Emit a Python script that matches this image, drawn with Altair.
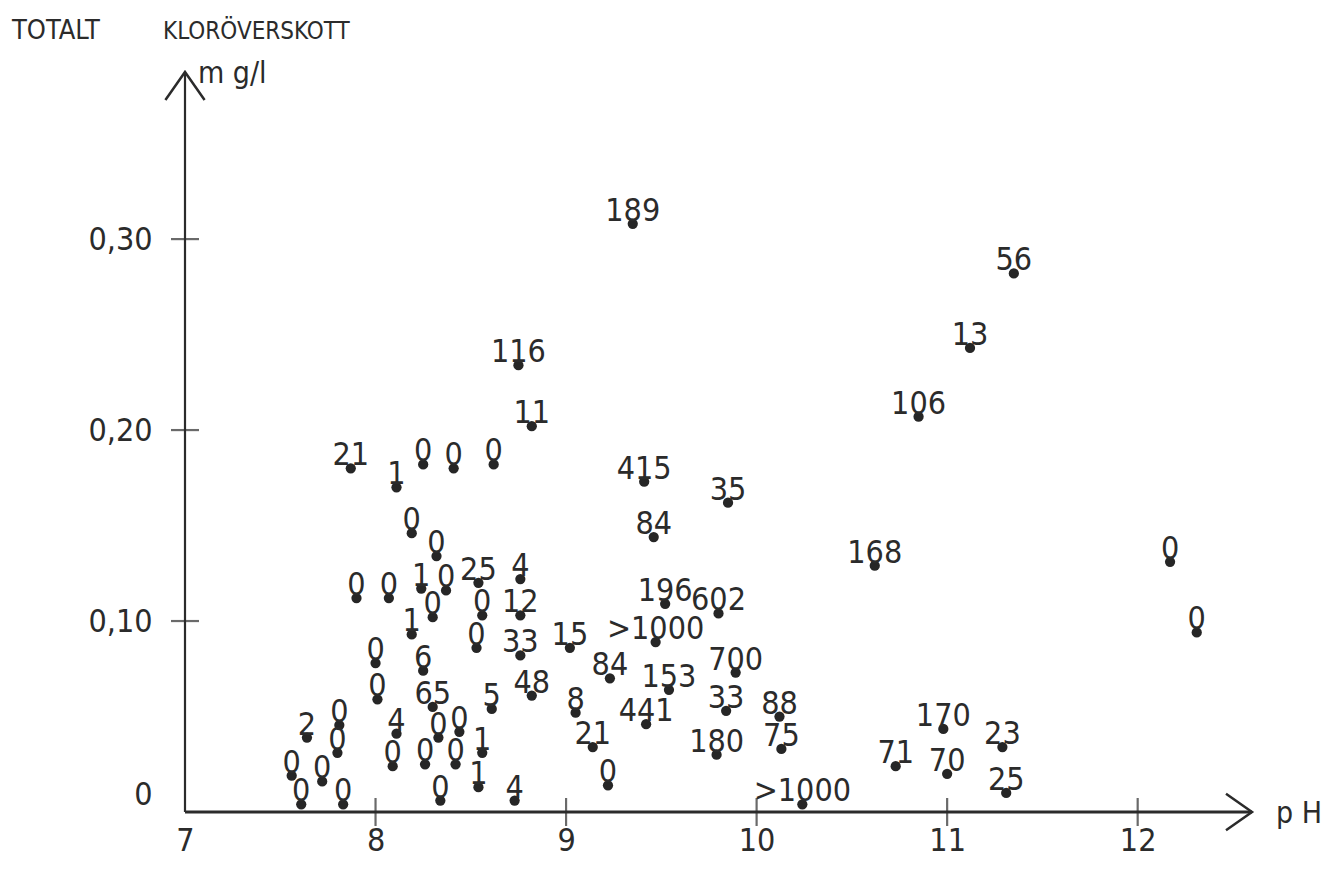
import altair as alt
import pandas as pd

# ---- data ----------------------------------------------------------------
labels = ["189", "56", "13", "116", "106", "11", "21", "1", "0", "0",
          "0", "415", "35", "0", "84", "0", "168", "0", "25", "4",
          "0", "0", "1", "0", "196", "602", "0", "0", "12", "0",
          "1", ">1000", "0", "15", "33", "0", "6", "700", "84", "153",
          "48", "0", "65", "5", "33", "8", "88", "441", "170", "2",
          "0", "4", "0", "0", "1", "0", "21", "180", "75", "23",
          "0", "0", "0", "0", "0", "71", "70", "1", "0", "25",
          "4", "0", "0", "0", ">1000"]
ph = [9.35, 11.35, 11.12, 8.75, 10.85, 8.82, 7.87, 8.11, 8.25, 8.41,
      8.62, 9.41, 9.85, 8.19, 9.46, 8.32, 10.62, 12.17, 8.54, 8.76,
      7.90, 8.07, 8.24, 8.37, 9.52, 9.80, 8.30, 8.56, 8.76, 12.31,
      8.19, 9.47, 8.53, 9.02, 8.76, 8.00, 8.25, 9.89, 9.23, 9.54,
      8.82, 8.01, 8.30, 8.61, 9.84, 9.05, 10.12, 9.42, 10.98, 7.64,
      7.81, 8.11, 8.33, 8.44, 8.56, 7.80, 9.14, 9.79, 10.13, 11.29,
      7.56, 7.72, 8.09, 8.26, 8.42, 10.73, 11.00, 8.54, 9.22, 11.31,
      8.73, 7.61, 7.83, 8.34, 10.24]
chlorine = [0.308, 0.282, 0.243, 0.234, 0.207, 0.202, 0.180, 0.170, 0.182, 0.180,
            0.182, 0.173, 0.162, 0.146, 0.144, 0.134, 0.129, 0.131, 0.120, 0.122,
            0.112, 0.112, 0.117, 0.116, 0.109, 0.104, 0.102, 0.103, 0.103, 0.094,
            0.093, 0.089, 0.086, 0.086, 0.082, 0.078, 0.074, 0.073, 0.070, 0.064,
            0.061, 0.059, 0.055, 0.054, 0.053, 0.052, 0.050, 0.046, 0.0435, 0.039,
            0.0455, 0.041, 0.039, 0.042, 0.031, 0.031, 0.034, 0.030, 0.033, 0.034,
            0.019, 0.016, 0.024, 0.025, 0.025, 0.024, 0.020, 0.013, 0.014, 0.010,
            0.006, 0.004, 0.004, 0.006, 0.004]

x_label_values = [7, 8, 9, 10, 11, 12]
x_tick_values = [8, 9, 10, 11, 12]
y_label_values = [0, 0.10, 0.20, 0.30]
y_tick_values = [0.10, 0.20, 0.30]

X_MIN, X_MAX = 7.0, 12.6
Y_MIN, Y_MAX = 0.0, 0.3875

title_word_1 = "TOTALT"
title_word_2 = "KLORÖVERSKOTT"
y_unit_text = "m\u00a0g/l"
x_unit_text = "p\u00a0H"

# ---- styling --------------------------------------------------------------
FONT = "Liberation Sans Narrow, DejaVu Sans Condensed, Liberation Sans, sans-serif"
INK = "#2b2b2b"

df = pd.DataFrame({"label": labels, "ph": ph, "cl": chlorine})

xs = alt.Scale(domain=[X_MIN, X_MAX], nice=False, zero=False)
ys = alt.Scale(domain=[Y_MIN, Y_MAX], nice=False, zero=False)

x_axis = alt.Axis(values=x_label_values, domain=False, ticks=False, grid=False,
                  labelFont=FONT, labelFontSize=32, labelColor=INK, labelFlush=False,
                  labelPadding=13, format="d", title=None)
y_axis = alt.Axis(values=y_label_values, domain=False, ticks=False, grid=False,
                  labelFont=FONT, labelFontSize=32, labelColor=INK, labelFlush=False,
                  labelPadding=33, title=None,
                  labelExpr="datum.value == 0 ? '0' : replace(format(datum.value, '.2f'), '.', ',')",
                  labelOffset={"condition": {"test": "datum.value == 0", "value": -18}, "value": 0})


def X():
    return alt.X("ph:Q", scale=xs, axis=x_axis)


def Y():
    return alt.Y("cl:Q", scale=ys, axis=y_axis)


base = alt.Chart(df)

dots = base.mark_circle(size=105, color="#262626", opacity=1).encode(x=X(), y=Y())
texts = base.mark_text(font=FONT, fontSize=32, color=INK, align="center",
                       baseline="alphabetic", dy=-3).encode(x=X(), y=Y(), text="label:N")

# axis lines
xline_df = pd.DataFrame({"ph": [X_MIN], "ph2": [X_MAX], "cl": [Y_MIN]})
yline_df = pd.DataFrame({"ph": [X_MIN], "cl": [Y_MIN], "cl2": [Y_MAX]})
x_line = alt.Chart(xline_df).mark_rule(color=INK, strokeWidth=3).encode(
    x=X(), x2="ph2:Q", y=Y())
y_line = alt.Chart(yline_df).mark_rule(color=INK, strokeWidth=2.2).encode(
    x=X(), y=Y(), y2="cl2:Q")

# crossing ticks
xt_df = pd.DataFrame({"ph": x_tick_values, "cl": [Y_MIN] * len(x_tick_values)})
yt_df = pd.DataFrame({"ph": [X_MIN] * len(y_tick_values), "cl": y_tick_values})
x_ticks = alt.Chart(xt_df).mark_tick(orient="vertical", size=28, thickness=2.2, color=INK).encode(
    x=X(), y=Y())
y_ticks = alt.Chart(yt_df).mark_tick(orient="horizontal", size=28, thickness=2.2, color=INK).encode(
    x=X(), y=Y())

# arrow heads (open chevrons, tip at the symbol origin)
xa_df = pd.DataFrame({"ph": [X_MAX], "cl": [Y_MIN]})
ya_df = pd.DataFrame({"ph": [X_MIN], "cl": [Y_MAX]})
x_arrow = alt.Chart(xa_df).mark_point(shape="M -2 -1.4 L 0 0 L -2 1.4", size=676,
                                      filled=False, stroke=INK, strokeWidth=2.5, opacity=1).encode(
    x=X(), y=Y())
y_arrow = alt.Chart(ya_df).mark_point(shape="M -1.4 2 L 0 0 L 1.4 2", size=784,
                                      filled=False, stroke=INK, strokeWidth=2.5, opacity=1).encode(
    x=X(), y=Y())

# titles / units
top_df = pd.DataFrame({"ph": [X_MIN], "cl": [Y_MAX]})
xunit_df = pd.DataFrame({"ph": [X_MAX], "cl": [Y_MIN]})
title_1 = alt.Chart(top_df).mark_text(text=title_word_1, font=FONT, fontSize=27, color=INK,
                                      align="left", baseline="alphabetic", dx=-173, dy=-33).encode(
    x=X(), y=Y())
title_2 = alt.Chart(top_df).mark_text(text=title_word_2, font=FONT, fontSize=24, color=INK,
                                      align="left", baseline="alphabetic", dx=-22, dy=-33).encode(
    x=X(), y=Y())
yunit_mark = alt.Chart(top_df).mark_text(text=y_unit_text, font=FONT, fontSize=30, color=INK,
                                         align="left", baseline="alphabetic", dx=13, dy=11).encode(
    x=X(), y=Y())
xunit_mark = alt.Chart(xunit_df).mark_text(text=x_unit_text, font=FONT, fontSize=30, color=INK,
                                           align="left", baseline="alphabetic", dx=24, dy=11).encode(
    x=X(), y=Y())

chart = alt.layer(
    dots, x_line, y_line, x_ticks, y_ticks, x_arrow, y_arrow,
    texts, title_1, title_2, yunit_mark, xunit_mark,
).properties(
    width=1067, height=740,
    padding={"left": 177, "top": 64, "right": 72, "bottom": 46},
    autosize=alt.AutoSizeParams(type="none"),
    background="white",
).configure_view(stroke=None)

chart.save("out.html", embed_options={"renderer": "svg", "actions": False})
